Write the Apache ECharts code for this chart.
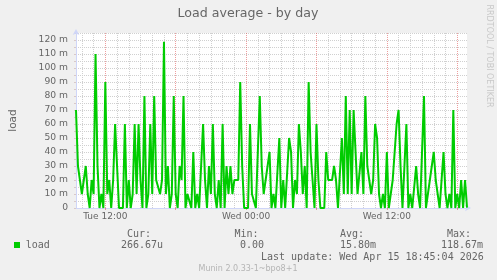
<!DOCTYPE html>
<html><head><meta charset="utf-8">
<script src="https://cdn.jsdelivr.net/npm/echarts@6/dist/echarts.min.js"></script>
<style>html,body{margin:0;padding:0;background:#f0f0f0}#c{width:497px;height:280px}</style>
</head><body><div id="c"></div>
<script>
const chartTitle = 'Load average - by day';
const seriesName = 'load';
const yAxisName = 'load';
// sample times: minutes since Tue 00:00, one sample every 10 minutes from Tue 09:30
const startMinute = 570;
const stepMinutes = 10;
const loadValues = [
  70,30,20,10,20,30,10,0,20,10,
  110,30,0,10,0,90,10,20,0,20,
  60,30,0,0,0,60,0,20,0,10,
  60,10,60,20,0,80,0,10,60,10,
  80,20,20,10,20,118.67,10,30,0,10,
  80,10,0,30,20,80,0,10,10,0,
  40,0,10,0,0,60,20,0,30,10,
  60,10,0,20,0,60,0,30,10,30,
  10,20,20,20,90,30,0,0,0,60,
  10,10,0,0,80,30,10,20,20,40,
  0,10,0,0,50,0,20,0,0,50,
  40,0,20,10,60,40,10,30,0,90,
  40,40,0,60,20,0,0,0,40,20,
  20,20,30,20,0,0,50,10,80,10,
  70,10,70,40,10,10,40,10,80,30,
  20,10,20,60,50,10,0,10,0,40,
  0,10,20,20,60,70,30,0,0,60,
  0,10,0,0,30,10,0,0,80,0,
  0,20,20,40,20,20,0,0,40,10,
  0,10,0,70,0,10,0,20,0,20,
  0.27
];
const xTickMinutes = [720, 1440, 2160];
const xTickLabels = ['Tue 12:00', 'Wed 00:00', 'Wed 12:00'];
const majorGridMinutes = [720, 1080, 1440, 1800, 2160, 2520];
const minorGridMinutes = [600, 660, 780, 840, 900, 960, 1020, 1140, 1200, 1260, 1320, 1380,
  1500, 1560, 1620, 1680, 1740, 1860, 1920, 1980, 2040, 2100, 2220, 2280, 2340, 2400, 2460];
const statNames = ['Cur:', 'Min:', 'Avg:', 'Max:'];
const statValues = ['266.67u', '0.00', '15.80m', '118.67m'];
const lastUpdate = 'Last update: Wed Apr 15 18:45:04 2026';
const footerText = 'Munin 2.0.33-1~bpo8+1';
const watermark = 'RRDTOOL / TOBI OETIKER';

const spanMinutes = (loadValues.length - 1) * stepMinutes;
const seriesData = loadValues.map((v, i) => [startMinute + i * stepMinutes, v]);

const MINOR = '#d0d0d0';
const MAJOR = 'rgba(222,79,79,0.55)';
const AXIS = '#CFD6F8';
const FONT = '#666666';
const SANS = 'DejaVu Sans';
const MONO = 'DejaVu Sans Mono';

const statX = [127, 234.4, 340, 447];
const valX = [121, 240, 340, 441];

const graphics = [
  {type:'text', x:248, y:13.5, style:{text:chartTitle, font:'12.6px "'+SANS+'"', fill:FONT, textAlign:'center', textVerticalAlign:'middle'}},
  {type:'text', x:489.5, y:56, rotation:-Math.PI/2, style:{text:watermark, font:'8px "'+SANS+'"', fill:'#c8c8c8', textAlign:'center', textVerticalAlign:'middle'}},
  {type:'rect', shape:{x:14, y:242, width:6, height:6}, style:{fill:'#00cc00'}},
  {type:'text', x:25.7, y:245.5, style:{text:seriesName, font:'10px "'+MONO+'"', fill:FONT, textAlign:'left', textVerticalAlign:'middle'}},
  {type:'text', x:261, y:257.2, style:{text:lastUpdate, font:'10px "'+MONO+'"', fill:FONT, textAlign:'left', textVerticalAlign:'middle'}},
  {type:'text', x:248, y:268.8, style:{text:footerText, font:'8px "'+SANS+'"', fill:'#b4b4b4', textAlign:'center', textVerticalAlign:'middle'}}
];
statNames.forEach((s, i) => graphics.push({type:'text', x:statX[i], y:234.7, style:{text:s, font:'10px "'+MONO+'"', fill:FONT, textAlign:'left', textVerticalAlign:'middle'}}));
statValues.forEach((s, i) => graphics.push({type:'text', x:valX[i], y:245.5, style:{text:s, font:'10px "'+MONO+'"', fill:FONT, textAlign:'left', textVerticalAlign:'middle'}}));

const dotted = (color) => ({color: color, width: 1, type: [1, 1]});

const chart = echarts.init(document.getElementById('c'), null, {renderer:'canvas'});
chart.setOption({
  backgroundColor: '#f0f0f0',
  animation: false,
  grid: {left:67, top:33, width:400, height:175, show:true, backgroundColor:'#ffffff', borderWidth:0, containLabel:false},
  xAxis: {
    type:'value', min:startMinute, max:startMinute + spanMinutes, interval:30,
    axisLine:{show:true, onZero:false, lineStyle:{color:AXIS, width:1}, symbol:['none','arrow'], symbolSize:[5,6], symbolOffset:[0,4]},
    axisTick:{show:true, length:2, customValues:majorGridMinutes, lineStyle:{color:MAJOR}},
    axisLabel:{show:true, margin:4, color:FONT, fontFamily:SANS, fontSize:9, customValues:xTickMinutes,
      formatter:(v) => { const k = xTickMinutes.indexOf(v); return k >= 0 ? xTickLabels[k] : ''; }},
    splitLine:{show:false}
  },
  yAxis: [{
    type:'value', min:0, max:125, interval:5,
    name:yAxisName, nameLocation:'middle', nameGap:57, nameRotate:90,
    nameTextStyle:{color:FONT, fontFamily:SANS, fontSize:10.5},
    axisLine:{show:true, onZero:false, lineStyle:{color:AXIS, width:1}, symbol:['none','arrow'], symbolSize:[5,6], symbolOffset:[0,4]},
    axisTick:{show:true, length:2, lineStyle:{color:'#d8c8c8'}},
    axisLabel:{show:true, margin:8, color:FONT, fontFamily:SANS, fontSize:9.2,
      formatter:(v) => (v % 10 === 0 ? (v === 0 ? '0' : v + ' m') : '')},
    splitLine:{show:true, showMinLine:false, lineStyle:dotted(MINOR)},
    z:3
  }, {
    type:'value', min:0, max:125, interval:10, position:'left',
    axisLine:{show:false}, axisTick:{show:false}, axisLabel:{show:false},
    splitLine:{show:true, showMinLine:false, showMaxLine:false, lineStyle:dotted(MAJOR)}
  }],
  graphic: graphics,
  series: [{
    name:'minorGrid', type:'line', data:[], silent:true, z:1,
    markLine:{silent:true, symbol:['none','none'], label:{show:false}, animation:false,
      lineStyle:dotted(MINOR), data:minorGridMinutes.map(m => ({xAxis:m}))}
  }, {
    name:'majorGrid', type:'line', data:[], silent:true, z:2,
    markLine:{silent:true, symbol:['none','none'], label:{show:false}, animation:false,
      lineStyle:dotted(MAJOR), data:majorGridMinutes.map(m => ({xAxis:m}))}
  }, {
    name:seriesName, type:'line', data:seriesData, showSymbol:false, symbol:'none',
    lineStyle:{color:'#00cc00', width:2}, itemStyle:{color:'#00cc00'}, z:5
  }]
});
</script></body></html>
